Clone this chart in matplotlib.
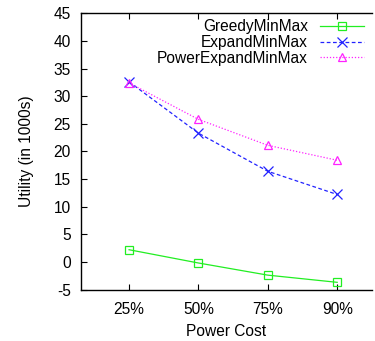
import matplotlib
matplotlib.use("Agg")
import matplotlib.pyplot as plt

plt.rcParams['font.family'] = ['Liberation Sans', 'DejaVu Sans']

categories = ["25%", "50%", "75%", "90%"]
greedy = [2.2, -0.2, -2.4, -3.7]
expand = [32.6, 23.3, 16.4, 12.2]
power = [32.4, 25.8, 21.1, 18.4]
yticks = [-5, 0, 5, 10, 15, 20, 25, 30, 35, 40, 45]

FS = 11.2

fig = plt.figure(figsize=(3.75, 3.41), dpi=100)
ax = fig.add_axes([0.2147, 0.151, 0.777, 0.810])
x = list(range(1, len(categories) + 1))

ax.plot(x, greedy, color='#22ee22', lw=0.9, marker='s', ms=6, mfc='none',
        mec='#22ee22', mew=0.9, label='GreedyMinMax')
ax.plot(x, expand, color='#2222ff', lw=0.9, ls=(0, (3, 2)), marker='x', ms=7,
        mew=0.9, label='ExpandMinMax')
ax.plot(x, power, color='#ff22ff', lw=0.9, ls=(0, (1, 1.5)), marker='^', ms=6,
        mfc='none', mec='#ff22ff', mew=0.9, label='PowerExpandMinMax')

ax.set_xlim(0.3, 4.5)
ax.set_ylim(-5, 45)
ax.set_xticks(x)
ax.set_xticklabels(categories)
ax.set_yticks(yticks)
ax.set_yticklabels([str(v) for v in yticks])
ax.tick_params(axis='both', direction='in', length=4, width=0.8, labelsize=FS)
ax.tick_params(axis='y', pad=7)
ax.tick_params(axis='x', pad=9, top=True)
ax.spines['right'].set_visible(False)
for s in ['left', 'bottom', 'top']:
    ax.spines[s].set_linewidth(1.0)

ax.set_xlabel('Power Cost', fontsize=FS, labelpad=5)
ax.set_ylabel('Utility (in 1000s)', fontsize=FS, labelpad=14)

leg = ax.legend(loc='upper right', bbox_to_anchor=(1.005, 1.012), frameon=False,
                markerfirst=False, fontsize=FS, handlelength=2.85,
                handletextpad=0.75, labelspacing=0.05, borderaxespad=0.2)

fig.savefig('out.png', dpi=100)
